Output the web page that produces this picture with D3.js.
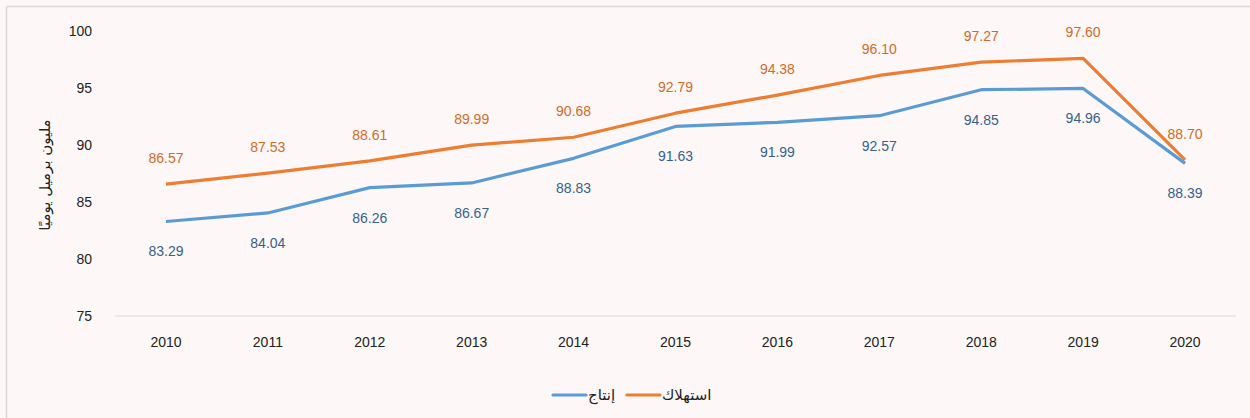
<!DOCTYPE html>
<html><head><meta charset="utf-8">
<script src="https://cdn.jsdelivr.net/npm/d3@7"></script>
<style>
html,body{margin:0;padding:0;background:#fdf8f7;}
svg{display:block;}
</style></head>
<body>
<script>
const years = ["2010","2011","2012","2013","2014","2015","2016","2017","2018","2019","2020"];
const production = [83.29,84.04,86.26,86.67,88.83,91.63,91.99,92.57,94.85,94.96,88.39];
const consumption = [86.57,87.53,88.61,89.99,90.68,92.79,94.38,96.10,97.27,97.60,88.70];
const yTicks = [75,80,85,90,95,100];
const yLabel = "مليون برميل يوميًا";
const prodName = "إنتاج";
const consName = "استهلاك";

const W = 1250, H = 418;
const svg = d3.select("body").append("svg").attr("width", W).attr("height", H);
svg.append("rect").attr("width", W).attr("height", H).attr("fill", "#fdf8f7");
// frame (top & left)
svg.append("line").attr("x1",6.5).attr("x2",6.5).attr("y1",6.5).attr("y2",H).attr("stroke","#dcd8d7").attr("stroke-width",1.5);
svg.append("line").attr("x1",6.5).attr("x2",W).attr("y1",6.5).attr("y2",6.5).attr("stroke","#dcd8d7").attr("stroke-width",1.5);

const x = d3.scaleBand().domain(years).range([115, 1236]);
const y = d3.scaleLinear().domain([75, 100]).range([316, 31]);
const cx = d => x(d) + x.bandwidth()/2;
const font = "Helvetica, 'Liberation Sans', Arial, sans-serif";
const arFont = "'DejaVu Sans', sans-serif";

// baseline
svg.append("line").attr("x1",115).attr("x2",1236).attr("y1",y(75)).attr("y2",y(75)).attr("stroke","#d9d9d9").attr("stroke-width",1);

// y tick labels
const yAxis = d3.axisLeft(y).tickValues(yTicks).tickSize(0).tickPadding(0);
const gy = svg.append("g").attr("transform","translate(92,0)").call(yAxis);
gy.select(".domain").remove();
gy.selectAll("text").attr("font-family",font).attr("font-size",14).attr("fill","#222");

// x tick labels
const xAxis = d3.axisBottom(x).tickSize(0).tickPadding(0);
const gx = svg.append("g").attr("transform","translate(0,343)").call(xAxis);
gx.select(".domain").remove();
gx.selectAll("text").attr("font-family",font).attr("font-size",14).attr("fill","#222").attr("dy","0.32em");

// y label
svg.append("text").attr("transform","translate(45,175) rotate(-90)").attr("text-anchor","middle")
  .attr("dominant-baseline","central").attr("font-family",arFont).attr("font-size",15).attr("fill","#222").text(yLabel);

const line = d3.line().x((d,i)=>cx(years[i])).y(d=>y(d));
svg.append("path").datum(consumption).attr("d",line).attr("fill","none").attr("stroke","#ED7D31").attr("stroke-width",3.2).attr("stroke-linejoin","round");
svg.append("path").datum(production).attr("d",line).attr("fill","none").attr("stroke","#5B9BD5").attr("stroke-width",3.2).attr("stroke-linejoin","round");

// data labels
svg.selectAll(".cl").data(consumption).enter().append("text")
  .attr("x",(d,i)=>cx(years[i])).attr("y",d=>y(d)-26).attr("text-anchor","middle").attr("dominant-baseline","central")
  .attr("font-family",font).attr("font-size",14).attr("fill","#D46A26").text(d=>d.toFixed(2));
svg.selectAll(".pl").data(production).enter().append("text")
  .attr("x",(d,i)=>cx(years[i])).attr("y",d=>y(d)+30).attr("text-anchor","middle").attr("dominant-baseline","central")
  .attr("font-family",font).attr("font-size",14).attr("fill","#375F8C").text(d=>d.toFixed(2));

// legend
const lg = svg.append("g");
lg.append("line").attr("x1",553).attr("x2",586).attr("y1",395).attr("y2",395).attr("stroke","#5B9BD5").attr("stroke-width",3.2).attr("stroke-linecap","round");
lg.append("text").attr("x",588).attr("y",395).attr("text-anchor","start").attr("dominant-baseline","central")
  .attr("font-family",arFont).attr("font-size",15).attr("fill","#222").text(prodName);
lg.append("line").attr("x1",627).attr("x2",660).attr("y1",395).attr("y2",395).attr("stroke","#ED7D31").attr("stroke-width",3.2).attr("stroke-linecap","round");
lg.append("text").attr("x",662).attr("y",395).attr("text-anchor","start").attr("dominant-baseline","central")
  .attr("font-family",arFont).attr("font-size",15).attr("fill","#222").text(consName);
</script>
</body></html>
